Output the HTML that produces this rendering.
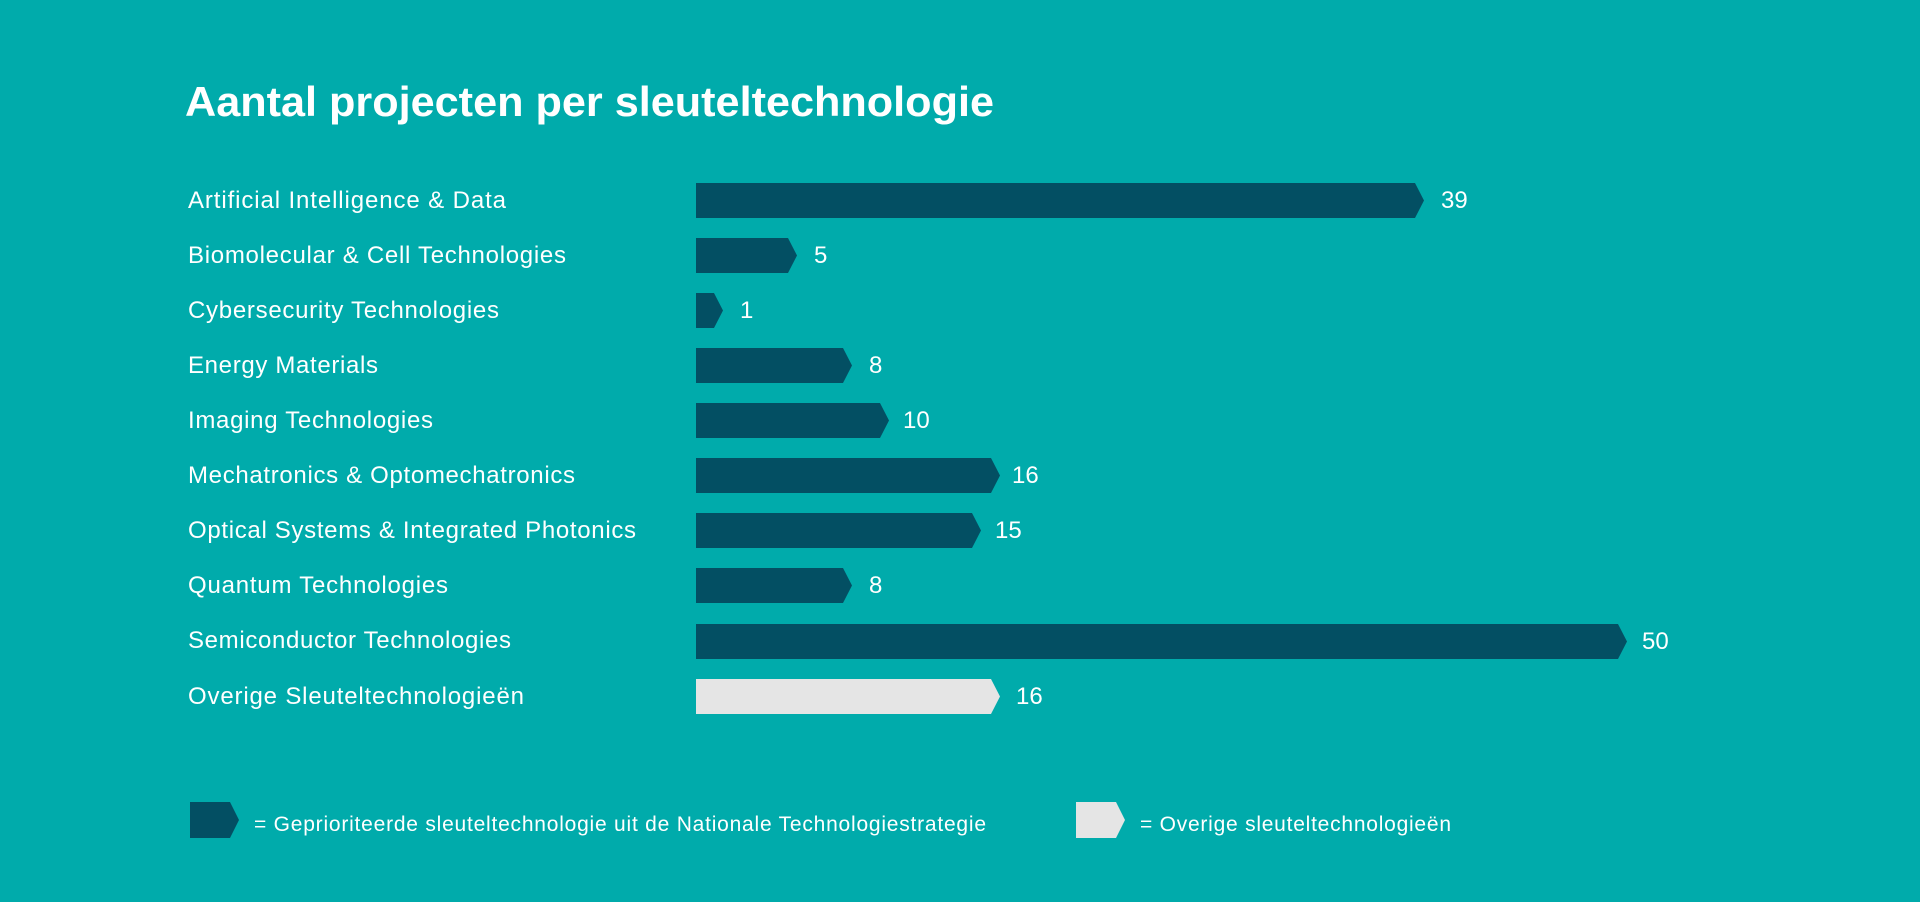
<!DOCTYPE html>
<html><head><meta charset="utf-8"><style>
html,body{margin:0;padding:0;background:#00ABAB;}
svg{display:block;}
text{font-family:"Liberation Sans",sans-serif;fill:#fff;}
</style></head><body>
<svg width="1920" height="902" viewBox="0 0 1920 902" xmlns="http://www.w3.org/2000/svg">
<rect width="1920" height="902" fill="#00ABAB"/>
<text x="185" y="116" font-size="42" font-weight="bold" textLength="809" lengthAdjust="spacingAndGlyphs">Aantal projecten per sleuteltechnologie</text>
<g font-size="24">
<text x="188" y="208" textLength="318">Artificial Intelligence &amp; Data</text>
<polygon points="696,183 1415,183 1424,200.5 1415,218 696,218" fill="#034F63"/>
<text x="1441" y="208">39</text>

<text x="188" y="263" textLength="378">Biomolecular &amp; Cell Technologies</text>
<polygon points="696,238 788,238 797,255.5 788,273 696,273" fill="#034F63"/>
<text x="814" y="263">5</text>

<text x="188" y="318" textLength="311">Cybersecurity Technologies</text>
<polygon points="696,293 714,293 723,310.5 714,328 696,328" fill="#034F63"/>
<text x="740" y="318">1</text>

<text x="188" y="373" textLength="190">Energy Materials</text>
<polygon points="696,348 843,348 852,365.5 843,383 696,383" fill="#034F63"/>
<text x="869" y="373">8</text>

<text x="188" y="428" textLength="245">Imaging Technologies</text>
<polygon points="696,403 880,403 889,420.5 880,438 696,438" fill="#034F63"/>
<text x="903" y="428">10</text>

<text x="188" y="483" textLength="387">Mechatronics &amp; Optomechatronics</text>
<polygon points="696,458 991,458 1000,475.5 991,493 696,493" fill="#034F63"/>
<text x="1012" y="483">16</text>

<text x="188" y="538" textLength="448">Optical Systems &amp; Integrated Photonics</text>
<polygon points="696,513 972,513 981,530.5 972,548 696,548" fill="#034F63"/>
<text x="995" y="538">15</text>

<text x="188" y="593" textLength="260">Quantum Technologies</text>
<polygon points="696,568 843,568 852,585.5 843,603 696,603" fill="#034F63"/>
<text x="869" y="593">8</text>

<text x="188" y="648" textLength="323">Semiconductor Technologies</text>
<polygon points="696,624 1618,624 1627,641.5 1618,659 696,659" fill="#034F63"/>
<text x="1642" y="649">50</text>

<text x="188" y="704" textLength="336">Overige Sleuteltechnologieën</text>
<polygon points="696,679 991,679 1000,696.5 991,714 696,714" fill="#E5E5E5"/>
<text x="1016" y="704">16</text>
</g>
<polygon points="190,802 230,802 239,820 230,838 190,838" fill="#034F63"/>
<text x="254" y="831" font-size="21" textLength="732">= Geprioriteerde sleuteltechnologie uit de Nationale Technologiestrategie</text>
<polygon points="1076,802 1116,802 1125,820 1116,838 1076,838" fill="#E5E5E5"/>
<text x="1140" y="831" font-size="21" textLength="311">= Overige sleuteltechnologieën</text>
</svg>
</body></html>
